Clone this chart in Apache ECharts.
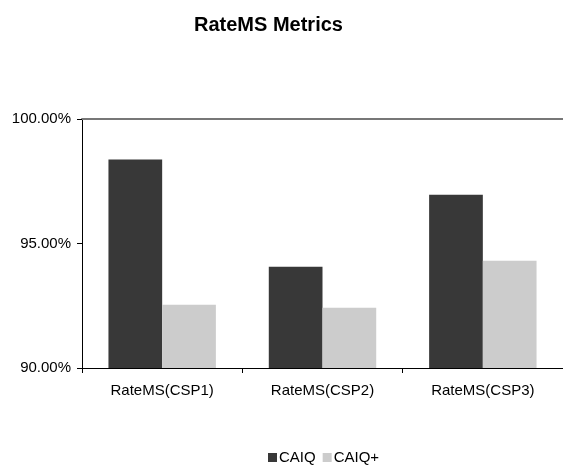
<!DOCTYPE html>
<html>
<head>
<meta charset="utf-8">
<script src="https://cdn.jsdelivr.net/npm/echarts@6/dist/echarts.min.js"></script>
<style>html,body{margin:0;padding:0;background:#fff;}#c{width:563px;height:466px;}</style>
</head>
<body>
<div id="c"></div>
<script>
const categories = ['RateMS(CSP1)', 'RateMS(CSP2)', 'RateMS(CSP3)'];
const caiq = [98.37, 94.07, 96.96];
const caiqPlus = [92.54, 92.42, 94.31];
const yTicks = [90, 95, 100];

const chart = echarts.init(document.getElementById('c'));
const font = 'Liberation Sans, Arial, sans-serif';
chart.setOption({
  animation: false,
  backgroundColor: '#fff',
  title: {
    text: 'RateMS Metrics', left: 189, top: 10,
    textStyle: { fontFamily: font, fontSize: 20, fontWeight: 'bold', color: '#000' }
  },
  legend: {
    top: 445, left: 263,
    itemWidth: 9, itemHeight: 9, itemGap: 7,
    icon: 'rect',
    textStyle: { fontFamily: font, fontSize: 15, color: '#000', padding: [0, 0, 0, -3] },
    data: ['CAIQ', 'CAIQ+']
  },
  grid: { left: 82, right: 0, top: 119, bottom: 98 },
  xAxis: [{
    type: 'category', data: categories,
    axisLine: { lineStyle: { color: '#000', width: 1 } },
    axisTick: { show: true, length: 5, lineStyle: { color: '#000' } },
    axisLabel: { fontFamily: font, fontSize: 15, color: '#000', margin: 15 }
  }, {
    type: 'category', data: categories, position: 'top',
    axisLine: { show: true, lineStyle: { color: '#777', width: 2 } },
    axisTick: { show: false }, axisLabel: { show: false }
  }],
  yAxis: {
    type: 'value', min: 90, max: 100, interval: 5,
    axisLine: { show: true, lineStyle: { color: '#000' } },
    axisTick: { show: true, length: 5, lineStyle: { color: '#000' } },
    splitLine: { show: false },
    axisLabel: {
      fontFamily: font, fontSize: 15, color: '#000', margin: 11,
      formatter: v => yTicks.includes(v) ? v.toFixed(2) + '%' : ''
    }
  },
  series: [{
    name: 'CAIQ', type: 'bar', data: caiq, barGap: '0%', barCategoryGap: '33%',
    itemStyle: { color: '#383838' }
  }, {
    name: 'CAIQ+', type: 'bar', data: caiqPlus,
    itemStyle: { color: '#cccccc' }
  }]
});
</script>
</body>
</html>
